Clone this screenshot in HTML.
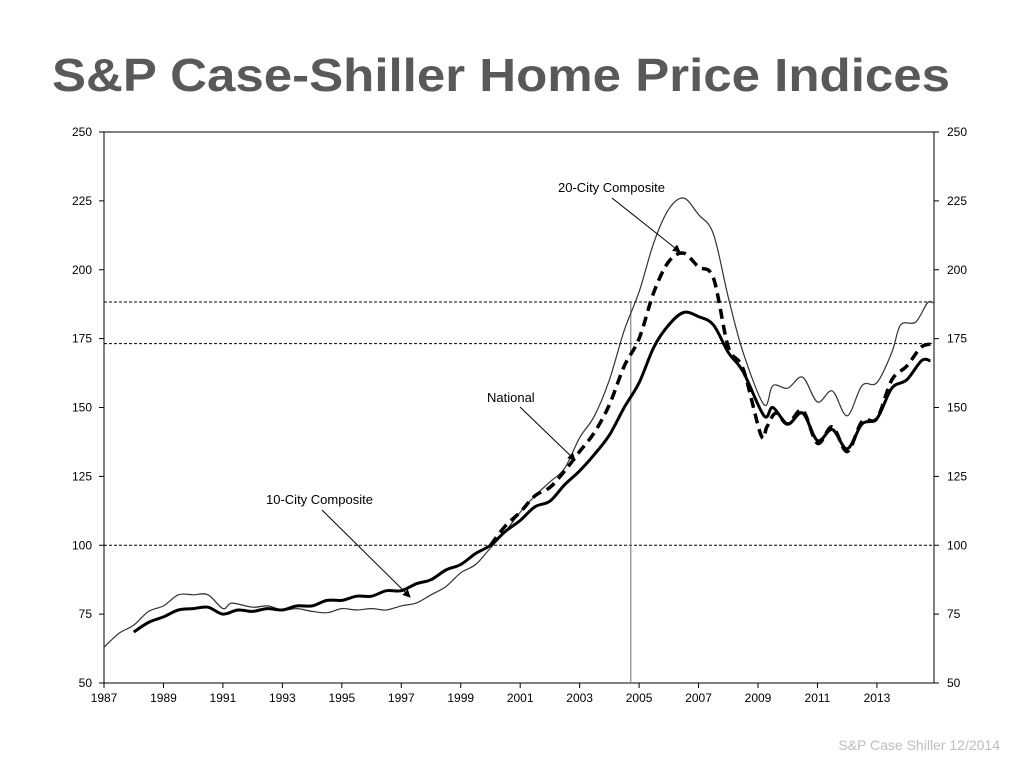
<!DOCTYPE html>
<html><head><meta charset="utf-8"><style>
body{margin:0;background:#fff;width:1024px;height:768px;overflow:hidden;font-family:"Liberation Sans",sans-serif}
</style></head><body>
<svg width="1024" height="768" xmlns="http://www.w3.org/2000/svg" font-family="Liberation Sans, sans-serif">
<text x="52" y="91" font-size="46" font-weight="bold" fill="#595959" textLength="898" lengthAdjust="spacingAndGlyphs">S&amp;P Case-Shiller Home Price Indices</text>
<text x="1000" y="750" font-size="14" fill="#bdbdbd" text-anchor="end">S&amp;P Case Shiller 12/2014</text>
<g id="plot"></g>
</svg>
<script>
const yTicks=[50,75,100,125,150,175,200,225,250];
const xTicks=[1987,1989,1991,1993,1995,1997,1999,2001,2003,2005,2007,2009,2011,2013];
const refLevels=[188.3,173.2,100];
const markerYear=2004.72;
const tenYears=[1987,1987.5,1988,1988.5,1989,1989.5,1990,1990.5,1991,1991.3,1992,1992.5,1993,1993.5,1994,1994.5,1995,1995.5,1996,1996.5,1997,1997.5,1998,1998.5,1999,1999.5,2000,2000.5,2001,2001.5,2002,2002.5,2003,2003.5,2004,2004.5,2005,2005.5,2006,2006.5,2007,2007.5,2008,2008.5,2009.2,2009.5,2010,2010.5,2011,2011.5,2012,2012.5,2013,2013.5,2013.8,2014.3,2014.7,2014.9];
const tenVals=[63,68,71,76,78,82,82,82,77,79,77.5,78,76.5,77,76,75.5,77,76.5,77,76.5,78,79,82,85,90,93,99,105,112,118,123,128,139,147,160,178,192,210,222,226,220,213,190,170,151,158,157,161,152,156,147,158,159,170,180,181,188,188];
const natYears=[1988,1988.5,1989,1989.5,1990,1990.5,1991,1991.5,1992,1992.5,1993,1993.5,1994,1994.5,1995,1995.5,1996,1996.5,1997,1997.5,1998,1998.5,1999,1999.5,2000,2000.5,2001,2001.5,2002,2002.5,2003,2003.5,2004,2004.5,2005,2005.5,2006,2006.5,2007,2007.5,2008,2008.5,2009.2,2009.5,2010,2010.5,2011,2011.5,2012,2012.5,2013,2013.5,2014,2014.5,2014.8];
const natVals=[68.5,72,74,76.5,77,77.5,75,76.5,76,77,76.5,78,78,80,80,81.5,81.5,83.5,83.5,86,87.5,91,93,97,100,105,109,114,116,122,127,133,140,150,159,172,180,184.5,183,180,170,163,147,150,144,148,138,142,135,144,146,157,160,167,167];
const twYears=[2000,2000.5,2001,2001.5,2002,2002.5,2003,2003.5,2004,2004.5,2005,2005.5,2006,2006.5,2007,2007.5,2008,2008.5,2009.1,2009.3,2009.6,2010,2010.5,2011,2011.5,2012,2012.5,2013,2013.5,2014,2014.5,2014.9];
const twVals=[100,107,112,118,121,127,134,141,151,165,175,192,203,206,201,197,172,164,140,143,148,144,149,137,143,134,145,146,160,165,172,173];

const NS="http://www.w3.org/2000/svg";
const L=104,R=934,T=132,B=683;
const xs=t=>L+(t-1987)*(R-L)/(2014.92-1987);
const ys=v=>B-(v-50)*(B-T)/200;
const g=document.getElementById('plot');
function mk(tag,a){const e=document.createElementNS(NS,tag);for(const k in a)e.setAttribute(k,a[k]);g.appendChild(e);return e;}
let e;
e=mk('rect',{x:L,y:T,width:R-L,height:B-T,fill:'none',stroke:'#000','stroke-width':1});


yTicks.forEach(v=>{
 e=mk('line',{x1:L-5,x2:L,y1:ys(v),y2:ys(v),stroke:'#000'});
 
 
 e=mk('line',{x1:R,x2:R+5,y1:ys(v),y2:ys(v),stroke:'#000'});
 
 
 e=mk('text',{x:L-12,y:ys(v)+4,'font-size':12,'text-anchor':'end',fill:'#000'});e.textContent=v;
 
 
 e=mk('text',{x:R+13,y:ys(v)+4,'font-size':12,fill:'#000'});e.textContent=v;
 
 
});
xTicks.forEach(t=>{
 e=mk('line',{x1:xs(t),x2:xs(t),y1:B,y2:B+5,stroke:'#000'});
 
 
 e=mk('text',{x:xs(t),y:B+19,'font-size':12,'text-anchor':'middle',fill:'#000'});e.textContent=t;
 
 
});
refLevels.forEach(v=>{
 e=mk('line',{x1:L,x2:R,y1:ys(v),y2:ys(v),stroke:'#000','stroke-width':1,'stroke-dasharray':'3,2'});
 
 
});
e=mk('line',{x1:xs(markerYear),x2:xs(markerYear),y1:ys(188.3),y2:B,stroke:'#888','stroke-width':1.2});


function smooth(a,b){
 const p=a.map((t,i)=>[xs(t),ys(b[i])]);
 let d='M'+p[0][0].toFixed(1)+','+p[0][1].toFixed(1);
 for(let i=0;i<p.length-1;i++){
  const p0=p[Math.max(0,i-1)],p1=p[i],p2=p[i+1],p3=p[Math.min(p.length-1,i+2)];
  const c1=[p1[0]+(p2[0]-p0[0])/6,p1[1]+(p2[1]-p0[1])/6];
  const c2=[p2[0]-(p3[0]-p1[0])/6,p2[1]-(p3[1]-p1[1])/6];
  d+=' C'+c1[0].toFixed(1)+','+c1[1].toFixed(1)+' '+c2[0].toFixed(1)+','+c2[1].toFixed(1)+' '+p2[0].toFixed(1)+','+p2[1].toFixed(1);
 }
 return d;
}
e=mk('path',{d:smooth(tenYears,tenVals),fill:'none',stroke:'#333','stroke-width':1.2});


e=mk('path',{d:smooth(natYears,natVals),fill:'none',stroke:'#000','stroke-width':3});


e=mk('path',{d:smooth(twYears,twVals),fill:'none',stroke:'#000','stroke-width':3.5,'stroke-dasharray':'10,6'});


const defs=mk('defs',{});
defs.innerHTML='<marker id="ah" markerWidth="8" markerHeight="8" refX="7" refY="4" orient="auto"><path d="M0,0 L8,4 L0,8 z" fill="#000"/></marker>';
function ann(txt,tx,ty,x1,y1,x2,y2,name){
 e=mk('text',{x:tx,y:ty,'font-size':13,fill:'#000'});e.textContent=txt;
 
 
 e=mk('line',{x1:x1,y1:y1,x2:x2,y2:y2,stroke:'#000','stroke-width':1,'marker-end':'url(#ah)'});
 
 
}
ann('20-City Composite',558,192,612,198,680,252,'twenty-city');
ann('National',487,402,520,407,575,460,'national');
ann('10-City Composite',266,504,322,510,410,597,'ten-city');
</script>
</body></html>
